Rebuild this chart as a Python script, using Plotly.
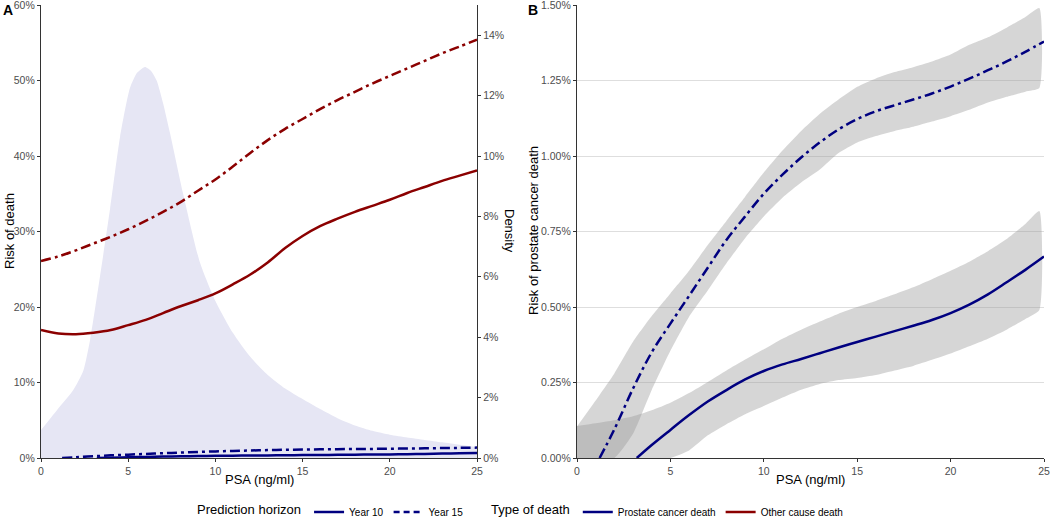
import plotly.graph_objects as go

# ---------------- data ----------------
psa_grid = [0, 1, 2, 3, 4, 5, 6, 7, 8, 9, 10, 11, 12, 13, 14, 15, 16, 17, 18, 19, 20, 21, 22, 23, 24, 25]

# Panel A: risk of other-cause death (%)
other_y10 = [16.95, 16.5, 16.4, 16.6, 16.95, 17.6, 18.3, 19.2, 20.1, 20.9, 21.8, 23.0, 24.3, 25.9, 27.8, 29.4,
             30.7, 31.7, 32.6, 33.4, 34.2, 35.1, 35.9, 36.7, 37.4, 38.1]
other_y15 = [26.1, 26.7, 27.5, 28.4, 29.3, 30.3, 31.4, 32.6, 33.9, 35.4, 36.9, 38.6, 40.4, 42.1, 43.6, 44.9,
             46.2, 47.4, 48.5, 49.6, 50.6, 51.6, 52.6, 53.6, 54.5, 55.4]

# Panel A: PSA density (%)
dens_psa = [0, 0.9, 1.85, 2.43, 2.81, 3.38, 3.96, 4.53, 5.1, 5.5, 5.96, 6.3, 6.63, 7.0, 7.4, 8.15, 9.1, 10,
            11, 12, 13, 14, 15, 16, 17, 18, 19, 20, 21, 22, 23, 24, 25]
dens_val = [0.925, 1.575, 2.25, 2.9, 3.9, 6.0, 8.25, 10.625, 12.25, 12.75, 12.95, 12.825, 12.5, 11.75, 10.75,
            8.75, 6.5, 5.2, 4.15, 3.35, 2.75, 2.3, 1.95, 1.62, 1.32, 1.08, 0.9, 0.77, 0.68, 0.6, 0.52, 0.44, 0.36]

# Prostate cancer death risk (%), Year 10
pc10_psa = [3.2, 4, 5, 6, 7, 8, 9, 10, 11, 12, 13, 14, 15, 16, 17, 18, 19, 20, 21, 22, 23, 24, 25]
pc10_val = [0.0, 0.043, 0.093, 0.142, 0.187, 0.225, 0.26, 0.288, 0.31, 0.328, 0.347, 0.366, 0.384, 0.402,
            0.42, 0.438, 0.457, 0.48, 0.508, 0.542, 0.582, 0.623, 0.667]
# Prostate cancer death risk (%), Year 15
pc15_psa = [1.21, 2, 3, 4, 5, 6, 7, 8, 9, 10, 11, 12, 13, 14, 15, 16, 17, 18, 19, 20, 21, 22, 23, 24, 25]
pc15_val = [0.0, 0.095, 0.23, 0.35, 0.445, 0.537, 0.63, 0.722, 0.80, 0.875, 0.938, 0.995, 1.045, 1.088, 1.122,
            1.148, 1.168, 1.187, 1.207, 1.23, 1.256, 1.284, 1.313, 1.345, 1.379]

# Confidence bands (%)
band_psa = [0, 1, 2, 3, 4, 5, 6, 7, 8, 9, 10, 11, 12, 13, 14, 15, 16, 17, 18, 19, 20, 21, 22, 23, 24, 24.75]
pc10_upper = [0.106, 0.115, 0.125, 0.138, 0.158, 0.183, 0.215, 0.252, 0.29, 0.326, 0.36, 0.395, 0.425, 0.452,
              0.478, 0.50, 0.52, 0.542, 0.565, 0.592, 0.62, 0.65, 0.685, 0.725, 0.775, 0.818]
pc10_lower = [0, 0, 0, 0, 0, 0, 0.025, 0.075, 0.112, 0.145, 0.172, 0.2, 0.226, 0.245, 0.258, 0.265, 0.275,
              0.29, 0.305, 0.325, 0.346, 0.37, 0.395, 0.425, 0.46, 0.49]
pc15_upper = [0.104, 0.19, 0.28, 0.385, 0.47, 0.545, 0.62, 0.705, 0.785, 0.865, 0.945, 1.018, 1.083, 1.14,
              1.187, 1.229, 1.257, 1.278, 1.294, 1.313, 1.336, 1.368, 1.393, 1.425, 1.46, 1.49]
pc15_lower = [0, 0, 0, 0.08, 0.225, 0.355, 0.468, 0.555, 0.645, 0.728, 0.8, 0.862, 0.912, 0.955, 1.01, 1.045,
              1.066, 1.083, 1.097, 1.114, 1.132, 1.153, 1.177, 1.196, 1.213, 1.225]

# Tick values and labels
x_ticks = [0, 5, 10, 15, 20, 25]
risk_ticks = [0, 10, 20, 30, 40, 50, 60]
risk_labels = ["0%", "10%", "20%", "30%", "40%", "50%", "60%"]
dens_ticks = [0, 2, 4, 6, 8, 10, 12, 14]
dens_labels = ["0%", "2%", "4%", "6%", "8%", "10%", "12%", "14%"]
pcd_ticks = [0, 0.25, 0.5, 0.75, 1.0, 1.25, 1.5]
pcd_labels = ["0.00%", "0.25%", "0.50%", "0.75%", "1.00%", "1.25%", "1.50%"]

# ---------------- styles ----------------
NAVY = "#000080"
DARKRED = "#8B0000"
DOTDASH = "10px,4px,3px,4px"
LW = 2.5
BAND = "rgba(153,153,153,0.4)"
FONT = "Liberation Sans, Arial, sans-serif"
TICKC = "#4D4D4D"

fig = go.Figure()

# Density (panel A, right axis)
fig.add_trace(go.Scatter(x=dens_psa, y=dens_val, mode="lines", line=dict(width=0, shape="spline", smoothing=0.6),
                         fill="tozeroy", fillcolor="#E6E6F4", xaxis="x", yaxis="y", showlegend=False,
                         hoverinfo="skip"))

# Panel A lines (left axis)
fig.add_trace(go.Scatter(x=psa_grid, y=other_y15, mode="lines", line=dict(color=DARKRED, width=LW, dash=DOTDASH, shape="spline"),
                         xaxis="x", yaxis="y2", showlegend=False))
fig.add_trace(go.Scatter(x=psa_grid, y=other_y10, mode="lines", line=dict(color=DARKRED, width=LW, shape="spline"),
                         xaxis="x", yaxis="y2", showlegend=False))
fig.add_trace(go.Scatter(x=pc15_psa, y=pc15_val, mode="lines", line=dict(color=NAVY, width=LW, dash=DOTDASH, shape="spline"),
                         xaxis="x", yaxis="y2", showlegend=False))
fig.add_trace(go.Scatter(x=pc10_psa, y=pc10_val, mode="lines", line=dict(color=NAVY, width=LW, shape="spline"),
                         xaxis="x", yaxis="y2", showlegend=False))

# Panel B bands
for up, lo in ((pc15_upper, pc15_lower), (pc10_upper, pc10_lower)):
    fig.add_trace(go.Scatter(x=band_psa + band_psa[::-1], y=up + lo[::-1], mode="lines",
                             line=dict(width=0, shape="spline", smoothing=0.5), fill="toself", fillcolor=BAND,
                             xaxis="x2", yaxis="y3", showlegend=False, hoverinfo="skip"))

# Panel B lines
fig.add_trace(go.Scatter(x=pc15_psa, y=pc15_val, mode="lines", line=dict(color=NAVY, width=LW, dash=DOTDASH, shape="spline"),
                         xaxis="x2", yaxis="y3", showlegend=False))
fig.add_trace(go.Scatter(x=pc10_psa, y=pc10_val, mode="lines", line=dict(color=NAVY, width=LW, shape="spline"),
                         xaxis="x2", yaxis="y3", showlegend=False))

# Legend entries
fig.add_trace(go.Scatter(x=[None], y=[None], mode="lines", name="Year 10", line=dict(color=NAVY, width=LW),
                         xaxis="x", yaxis="y2", legend="legend"))
fig.add_trace(go.Scatter(x=[None], y=[None], mode="lines", name="Year 15", line=dict(color=NAVY, width=LW, dash="6px,4px"),
                         xaxis="x", yaxis="y2", legend="legend"))
fig.add_trace(go.Scatter(x=[None], y=[None], mode="lines", name="Prostate cancer death", line=dict(color=NAVY, width=LW),
                         xaxis="x", yaxis="y2", legend="legend2"))
fig.add_trace(go.Scatter(x=[None], y=[None], mode="lines", name="Other cause death", line=dict(color=DARKRED, width=LW),
                         xaxis="x", yaxis="y2", legend="legend2"))

W, H = 1050, 517
ybot = (H - 458) / H
ytop = (H - 5) / H

axis_common = dict(showline=True, linecolor="#333333", linewidth=1.2, ticks="outside", ticklen=3,
                   tickcolor="#333333", tickfont=dict(family=FONT, size=10.5, color=TICKC),
                   zeroline=False, showgrid=False, automargin=False, ticklabeloverflow="allow")

fig.update_layout(
    width=W, height=H,
    margin=dict(l=0, r=0, t=0, b=0, autoexpand=False),
    paper_bgcolor="white", plot_bgcolor="white",
    font=dict(family=FONT, color="black"),
    xaxis=dict(domain=[41 / W, 477 / W], range=[0, 25], tickvals=x_ticks, anchor="y", **axis_common),
    yaxis=dict(domain=[ybot, ytop], range=[0, 15], tickvals=dens_ticks, ticktext=dens_labels,
               side="right", anchor="x", **axis_common),
    yaxis2=dict(range=[0, 60], tickvals=risk_ticks, ticktext=risk_labels, side="left",
                overlaying="y", anchor="x", **axis_common),
    xaxis2=dict(domain=[577 / W, 1044 / W], range=[0, 25], tickvals=x_ticks, anchor="y3", **axis_common),
    yaxis3=dict(domain=[ybot, ytop], range=[0, 1.5], tickvals=pcd_ticks, ticktext=pcd_labels,
                anchor="x2", **{**axis_common, "showgrid": True}, gridcolor="#DEDEDE", gridwidth=1),
    legend=dict(orientation="h", x=195 / W, y=5 / H, xanchor="left", yanchor="middle",
                title=dict(text="Prediction horizon", side="left", font=dict(size=13, family=FONT)),
                font=dict(size=10, family=FONT), itemwidth=30, bgcolor="rgba(0,0,0,0)"),
    legend2=dict(orientation="h", x=489 / W, y=5 / H, xanchor="left", yanchor="middle",
                 title=dict(text="Type of death", side="left", font=dict(size=13, family=FONT)),
                 font=dict(size=10, family=FONT), itemwidth=30, bgcolor="rgba(0,0,0,0)"),
)

ann = [
    dict(text="<b>A</b>", x=1 / W, y=(H - 10) / H, xanchor="left", yanchor="middle", font=dict(size=14)),
    dict(text="<b>B</b>", x=526 / W, y=(H - 10) / H, xanchor="left", yanchor="middle", font=dict(size=14)),
    dict(text="Risk of death", x=9 / W, y=(H - 231) / H, textangle=-90, xanchor="center", yanchor="middle",
         font=dict(size=13)),
    dict(text="Density", x=510 / W, y=(H - 231) / H, textangle=90, xanchor="center", yanchor="middle",
         font=dict(size=13)),
    dict(text="Risk of prostate cancer death", x=533 / W, y=(H - 231) / H, textangle=-90, xanchor="center",
         yanchor="middle", font=dict(size=13)),
    dict(text="PSA (ng/ml)", x=259 / W, y=(H - 479) / H, xanchor="center", yanchor="middle", font=dict(size=13)),
    dict(text="PSA (ng/ml)", x=810 / W, y=(H - 479) / H, xanchor="center", yanchor="middle", font=dict(size=13)),
]
for a in ann:
    a.update(xref="paper", yref="paper", showarrow=False)
    a["font"].update(family=FONT, color="black")
fig.update_layout(annotations=ann)

fig.write_html("out.html", config={"displayModeBar": False},
               post_script="document.body.style.margin='0px';document.body.style.overflow='hidden';")
